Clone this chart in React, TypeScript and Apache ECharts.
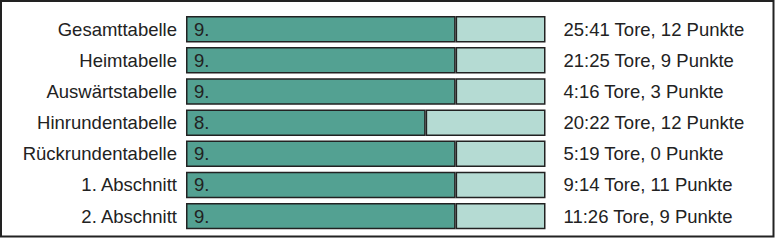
import React, { useEffect, useRef } from "react";
import * as echarts from "echarts";

const categories = [
  "Gesamttabelle",
  "Heimtabelle",
  "Auswärtstabelle",
  "Hinrundentabelle",
  "Rückrundentabelle",
  "1. Abschnitt",
  "2. Abschnitt",
];
const ranks = [9, 9, 9, 8, 9, 9, 9];
const teamCount = 12;
const goals = ["25:41", "21:25", "4:16", "20:22", "5:19", "9:14", "11:26"];
const points = [12, 9, 3, 12, 0, 11, 9];

export default function App() {
  const ref = useRef<HTMLDivElement>(null);
  useEffect(() => {
    document.body.style.margin = "0";
    const chart = echarts.init(ref.current!, null, { renderer: "svg" });
    const rightLabels = goals.map((g, i) => `${g} Tore, ${points[i]} Punkte`);
    const font = "Liberation Sans, Arial, sans-serif";
    chart.setOption({
      animation: false,
      grid: { left: 186, right: 231.5, top: 13.6, bottom: 9.3 },
      xAxis: { type: "value", min: 0, max: teamCount, show: false },
      yAxis: [
        {
          type: "category",
          data: categories,
          inverse: true,
          axisLine: { show: false },
          axisTick: { show: false },
          axisLabel: { color: "#222", fontSize: 18.5, fontFamily: font, margin: 9 },
        },
        {
          type: "category",
          data: rightLabels,
          inverse: true,
          position: "right",
          axisLine: { show: false },
          axisTick: { show: false },
          axisLabel: { color: "#222", fontSize: 18.5, fontFamily: font, margin: 18, align: "left" },
        },
      ],
      series: [
        {
          type: "bar",
          stack: "t",
          data: ranks,
          barCategoryGap: "15%",
          itemStyle: { color: "#53a192", borderColor: "#222", borderWidth: 1.5 },
          label: {
            show: true,
            position: "insideLeft",
            distance: 8,
            formatter: "{c}.",
            color: "#222",
            fontSize: 18.5,
            fontFamily: font,
          },
        },
        {
          type: "bar",
          stack: "t",
          data: ranks.map((r) => teamCount - r),
          itemStyle: { color: "#b5dbd3", borderColor: "#222", borderWidth: 1.5 },
        },
      ],
      graphic: [
        {
          type: "rect",
          shape: { x: 1, y: 1, width: 772.5, height: 235.5 },
          style: { fill: "none", stroke: "#222", lineWidth: 2 },
          silent: true,
        },
      ],
    });
    return () => chart.dispose();
  }, []);
  return <div ref={ref} style={{ width: 777, height: 241 }} />;
}
